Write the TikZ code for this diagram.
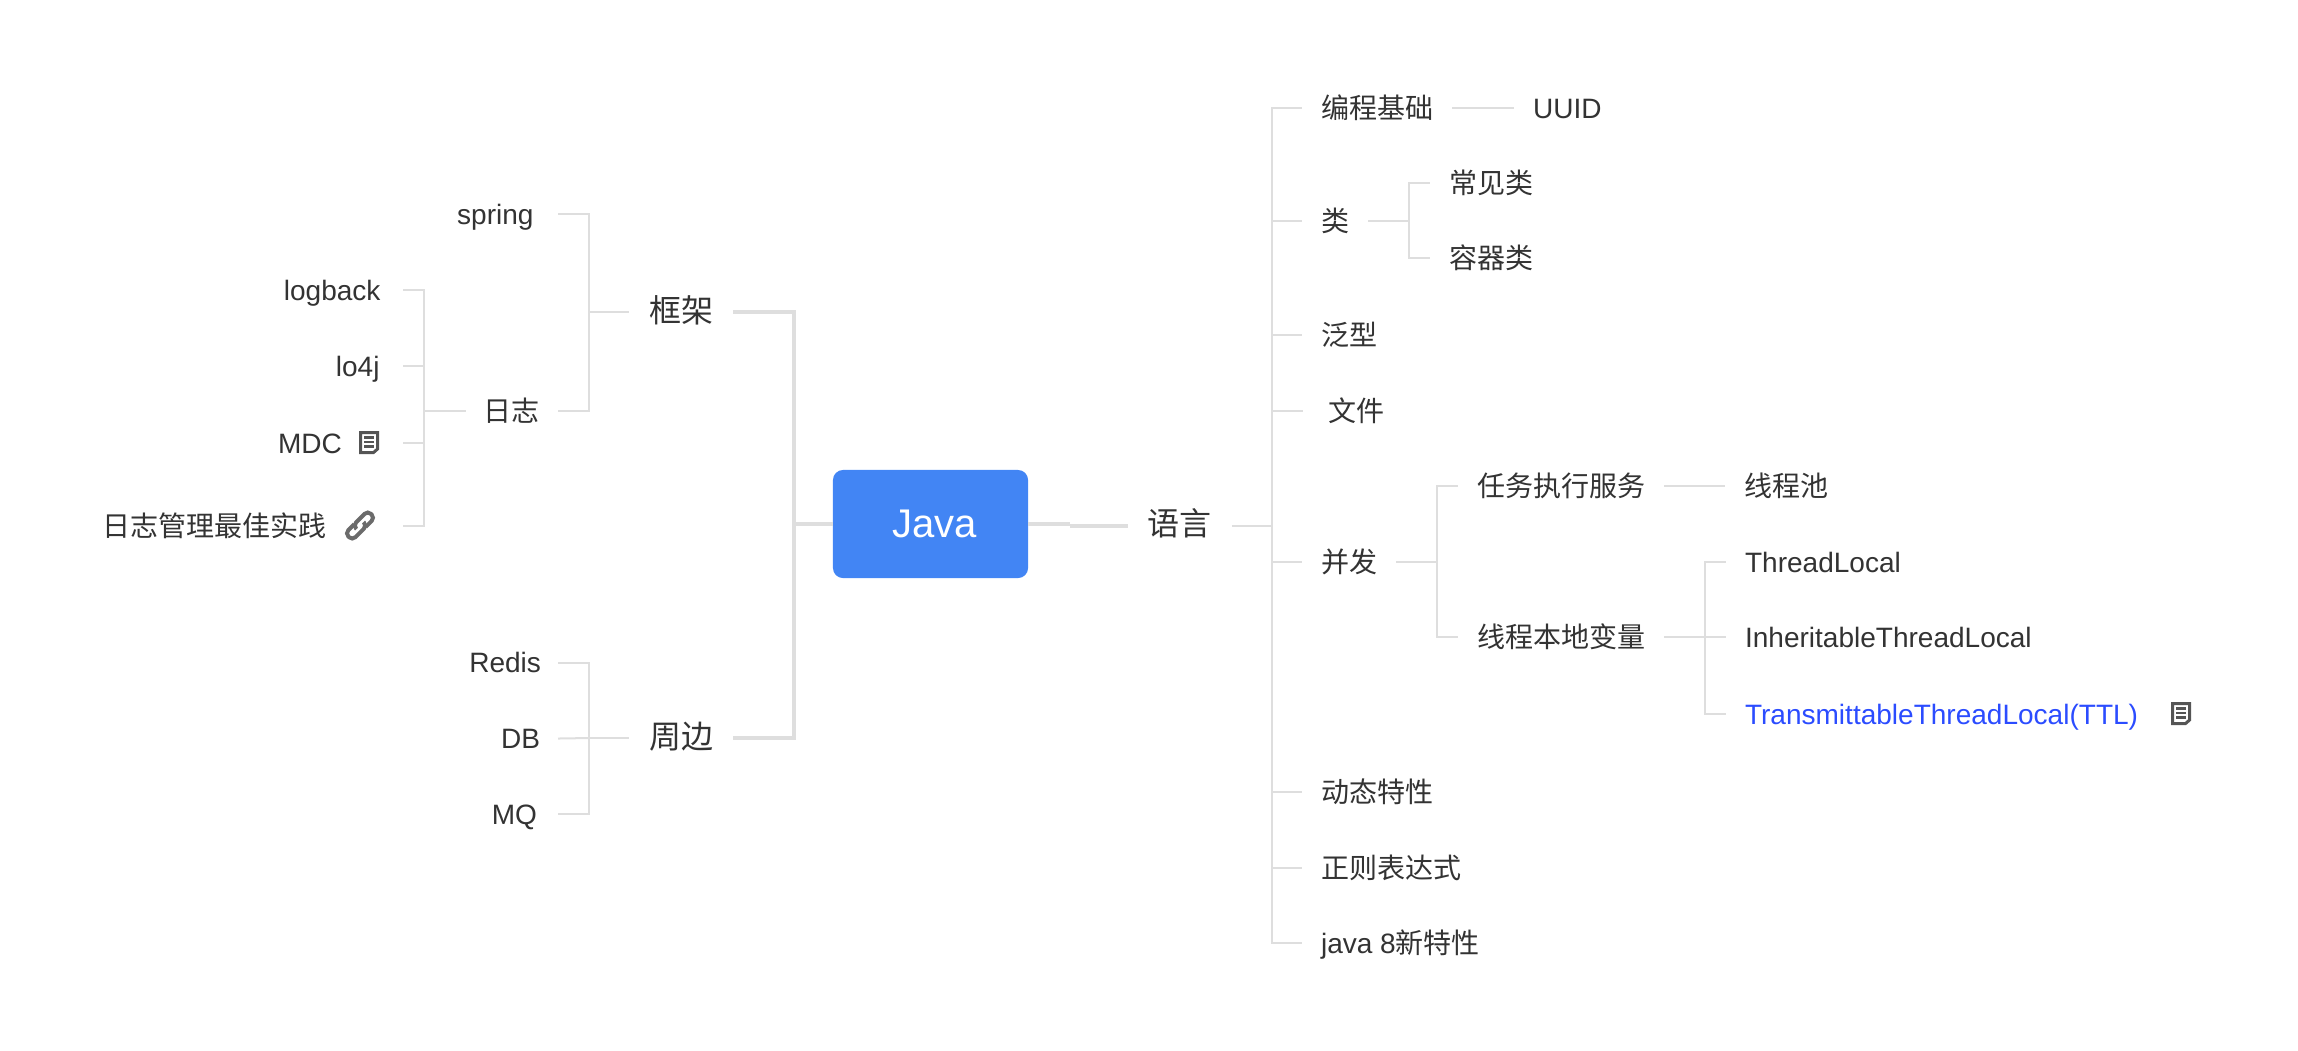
\documentclass[tikz,border=0pt]{standalone}
\usepackage{fontspec}
\setmainfont{Liberation Sans}
\newfontfamily\cjk{Noto Sans CJK SC}
\newcommand{\leaffont}{\fontsize{7.97pt}{10pt}\selectfont}
\newcommand{\bigfont}{\fontsize{9.1pt}{11pt}\selectfont}
\newcommand{\rootfont}{\fontsize{11.38pt}{14pt}\selectfont}
\definecolor{linegray}{HTML}{DEDEDE}
\definecolor{rootblue}{HTML}{4285F4}
\definecolor{textgray}{HTML}{333333}
\definecolor{ttlblue}{HTML}{2B4CFF}
\definecolor{icongray}{HTML}{555555}
\definecolor{linkgray}{HTML}{6B6B6B}
\tikzset{
	leaf/.style={font=\leaffont,text=textgray,inner ysep=0pt,outer sep=0pt,text height=0.24cm,text depth=0.04cm},
	leafr/.style={leaf,anchor=west,inner xsep=0.19cm},
	leafl/.style={leaf,anchor=east,inner xsep=#1},
	bigleaf/.style={leaf,font=\bigfont\cjk,anchor=center,inner xsep=0.2cm},
	twig/.style={draw=linegray,line width=0.02cm},
	bough/.style={draw=linegray,line width=0.04cm},
	noteicon/.pic={
		\draw[icongray,line width=0.03cm] (-8.5,-10) -- (8.5,-10) -- (8.5,6.5) -- (4.5,10) -- (-8.5,10) -- cycle;
		\draw[icongray,line width=0.022cm] (-5,-5) -- (5,-5) (-5,-0.5) -- (5,-0.5) (-5,4) -- (5,4);
	},
	linkicon/.pic={
		\draw[linkgray,line width=0.04cm,rotate=45,rounded corners=0.045cm] (-3,-5) -- (-16,-5) -- (-16,5) -- (5,5) -- (5,0);
		\draw[linkgray,line width=0.04cm,rotate=45,rounded corners=0.045cm] (3,5) -- (16,5) -- (16,-5) -- (-5,-5) -- (-5,0);
	}
}
\begin{document}
\begin{tikzpicture}[x=0.01cm,y=-0.01cm]
	\useasboundingbox (0,0) rectangle (2298,1050);
	\node[fill=rootblue,rounded corners=0.1cm,minimum width=1.95cm,minimum height=1.08cm,inner sep=0pt,outer sep=0pt,text=white,font=\rootfont] (root) at (930.5,524) {\hspace{0.08cm}Java};
	\node[bigleaf] (lang) at (1179.5,525.5) {语言};
	\node[bigleaf] (frame) at (681,312) {框架};
	\node[bigleaf] (around) at (681,738) {周边};
	\node[leafl=0.245cm] (spring) at (558,214) {spring};
	\node[leafl=0.18cm,font=\leaffont\cjk] (logs) at (558,411) {日志};
	\node[leafl=0.225cm] (logback) at (403,290) {logback};
	\node[leafl=0.235cm] (lofour) at (403,366) {lo4j};
	\node[leafl=0.61cm] (mdc) at (403,443) {MDC};
	\node[leafl=0.76cm,font=\leaffont\cjk] (bestlog) at (403,526) {日志管理最佳实践};
	\node[leafl=0.17cm] (redis) at (558,662.5) {Redis};
	\node[leafl=0.18cm] (db) at (558,738.5) {DB};
	\node[leafl=0.21cm] (mq) at (558,814) {MQ};
	\node[leafr,font=\leaffont\cjk] (basics) at (1302,108) {编程基础};
	\node[leafr] (uuid) at (1514,108) {UUID};
	\node[leafr,font=\leaffont\cjk] (klass) at (1302,221) {类};
	\node[leafr,font=\leaffont\cjk] (common) at (1430,183) {常见类};
	\node[leafr,font=\leaffont\cjk] (container) at (1430,258) {容器类};
	\node[leafr,font=\leaffont\cjk] (generic) at (1302,335) {泛型};
	\node[leafr,font=\leaffont\cjk] (files) at (1303,411) {\ 文件};
	\node[leafr,font=\leaffont\cjk] (conc) at (1302,562) {并发};
	\node[leafr,font=\leaffont\cjk] (taskexec) at (1458,486) {任务执行服务};
	\node[leafr,font=\leaffont\cjk] (pool) at (1725,486) {线程池};
	\node[leafr,font=\leaffont\cjk] (tlocal) at (1458,637) {线程本地变量};
	\node[leafr] (threadlocal) at (1726,562) {ThreadLocal};
	\node[leafr] (inherit) at (1726,637) {InheritableThreadLocal};
	\node[leafr,text=ttlblue] (ttl) at (1726,714) {TransmittableThreadLocal(TTL)};
	\node[leafr,font=\leaffont\cjk] (dynamic) at (1302,792) {动态特性};
	\node[leafr,font=\leaffont\cjk] (regex) at (1302,868) {正则表达式};
	\node[leafr] (javaeight) at (1302,943) {java 8{\cjk 新特性}};
	\coordinate (busleft) at (794,524);
	\coordinate (kneea) at (1070,524);
	\coordinate (kneeb) at (1070,525.5);
	\coordinate (forkframe) at (589,312);
	\coordinate (forkaround) at (589,738);
	\coordinate (forklogs) at (424,411);
	\coordinate (forklang) at (1272,525.5);
	\coordinate (forkklass) at (1409,221);
	\coordinate (forkconc) at (1437,562);
	\coordinate (forktlocal) at (1705,637);
	\draw[bough] (frame.east) -| (busleft) |- (around.east);
	\draw[bough] (root.west) -- (busleft);
	\draw[bough] (root.east) -- (kneea);
	\draw[bough] (kneeb) -- (lang.west);
	\draw[twig] (frame.west) -- (forkframe);
	\draw[twig] (forkframe) |- (spring.east);
	\draw[twig] (forkframe) |- (logs.east);
	\draw[twig] (logs.west) -- (forklogs);
	\draw[twig] (forklogs) |- (logback.east);
	\draw[twig] (forklogs) |- (lofour.east);
	\draw[twig] (forklogs) |- (mdc.east);
	\draw[twig] (forklogs) |- (bestlog.east);
	\draw[twig] (around.west) -- (forkaround);
	\draw[twig] (forkaround) |- (redis.east);
	\draw[twig] (forkaround) -- (db.east);
	\draw[twig] (forkaround) |- (mq.east);
	\draw[twig] (lang.east) -- (forklang);
	\draw[twig] (forklang) |- (basics.west);
	\draw[twig] (forklang) |- (klass.west);
	\draw[twig] (forklang) |- (generic.west);
	\draw[twig] (forklang) |- (files.west);
	\draw[twig] (forklang) |- (conc.west);
	\draw[twig] (forklang) |- (dynamic.west);
	\draw[twig] (forklang) |- (regex.west);
	\draw[twig] (forklang) |- (javaeight.west);
	\draw[twig] (basics.east) -- (uuid.west);
	\draw[twig] (klass.east) -- (forkklass);
	\draw[twig] (forkklass) |- (common.west);
	\draw[twig] (forkklass) |- (container.west);
	\draw[twig] (conc.east) -- (forkconc);
	\draw[twig] (forkconc) |- (taskexec.west);
	\draw[twig] (forkconc) |- (tlocal.west);
	\draw[twig] (taskexec.east) -- (pool.west);
	\draw[twig] (tlocal.east) -- (forktlocal);
	\draw[twig] (forktlocal) |- (threadlocal.west);
	\draw[twig] (forktlocal) -- (inherit.west);
	\draw[twig] (forktlocal) |- (ttl.west);
	\pic at (369,442.5) {noteicon};
	\pic at (2181,713.5) {noteicon};
	\pic at (360,525.5) {linkicon};
\end{tikzpicture}
\end{document}
